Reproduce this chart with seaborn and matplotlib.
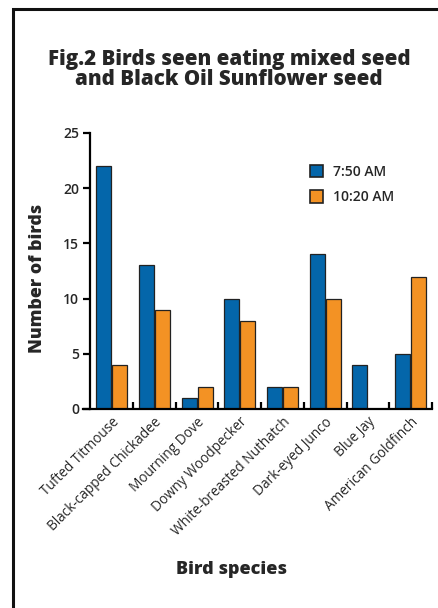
import pandas as pd
import matplotlib.pyplot as plt
import seaborn as sns
from matplotlib.patches import Rectangle

# Bird counts
species = ["Tufted Titmouse", "Black-capped Chickadee", "Mourning Dove",
           "Downy Woodpecker", "White-breasted Nuthatch", "Dark-eyed Junco",
           "Blue Jay", "American Goldfinch"]
early = [22, 13, 1, 10, 2, 14, 4, 5]
late = [4, 9, 2, 8, 2, 10, 0, 12]
times = ["7:50 AM", "10:20 AM"]
colors = ["#0466aa", "#f39224"]

df = pd.DataFrame({
    "species": species * 2,
    "count": early + late,
    "time": [times[0]] * len(species) + [times[1]] * len(species),
})

sns.set_style("white")
plt.rcParams["font.family"] = ["Open Sans", "DejaVu Sans"]

fig = plt.figure(figsize=(4.38, 6.08), dpi=100)
ax = fig.add_axes([83 / 438, 1 - 409 / 608, (432 - 83) / 438, (409 - 133) / 608])

sns.barplot(data=df, x="species", y="count", hue="time", palette=colors, saturation=1,
            width=0.75, gap=0.06, edgecolor="#222222", linewidth=0.9, ax=ax)

ax.set_xlim(-0.67, 7.5)
ax.set_ylim(0, 25)
ax.set_yticks([0, 5, 10, 15, 20, 25])
ax.spines["left"].set_position(("data", -0.5))
for s in ["top", "right"]:
    ax.spines[s].set_visible(False)
for s in ["left", "bottom"]:
    ax.spines[s].set_linewidth(1.6)
    ax.spines[s].set_color("black")

ax.set_xticks(range(len(species)))
ax.set_xticklabels(species, rotation=45, ha="right", rotation_mode="anchor", fontsize=9.8)
ax.tick_params(axis="x", which="major", length=0, pad=4)
ax.set_xticks([i + 0.5 for i in range(len(species))], minor=True)
ax.tick_params(axis="x", which="minor", direction="in", length=5, width=1.6, color="black", bottom=True)
ax.tick_params(axis="y", direction="out", length=5, width=1.6, color="black", left=True,
               labelsize=10, pad=3)
for t in ax.get_yticklabels():
    t.set_fontweight("semibold")

ax.set_xlabel("")
ax.set_ylabel("")

leg = ax.legend(frameon=False, loc="upper left", bbox_to_anchor=(297 / 438, 1 - 152 / 608),
                bbox_transform=fig.transFigure, handlelength=1.0, handleheight=1.0,
                fontsize=10, labelspacing=0.85, handletextpad=0.7)
for p in leg.get_patches():
    p.set_edgecolor("#222222")
    p.set_linewidth(1.2)
for t in leg.get_texts():
    t.set_fontweight("semibold")

fig.text(229 / 438, 1 - 49 / 608, "Fig.2 Birds seen eating mixed seed\nand Black Oil Sunflower seed",
         ha="center", va="top", fontsize=14.8, fontweight="heavy", linespacing=0.95)
fig.text(38 / 438, 1 - 278 / 608, "Number of birds", rotation=90, ha="center", va="center",
         fontsize=12.8, fontweight="heavy")
fig.text(231 / 438, 1 - 570 / 608, "Bird species", ha="center", va="center",
         fontsize=13, fontweight="heavy")

# frame around the figure (only top and left edges show)
fig.patches.append(Rectangle((13 / 438, -0.1), 2, 1.1 - 9.5 / 608, transform=fig.transFigure,
                             fill=False, edgecolor="#111111", linewidth=2.2))

fig.savefig("out.png", dpi=100)
